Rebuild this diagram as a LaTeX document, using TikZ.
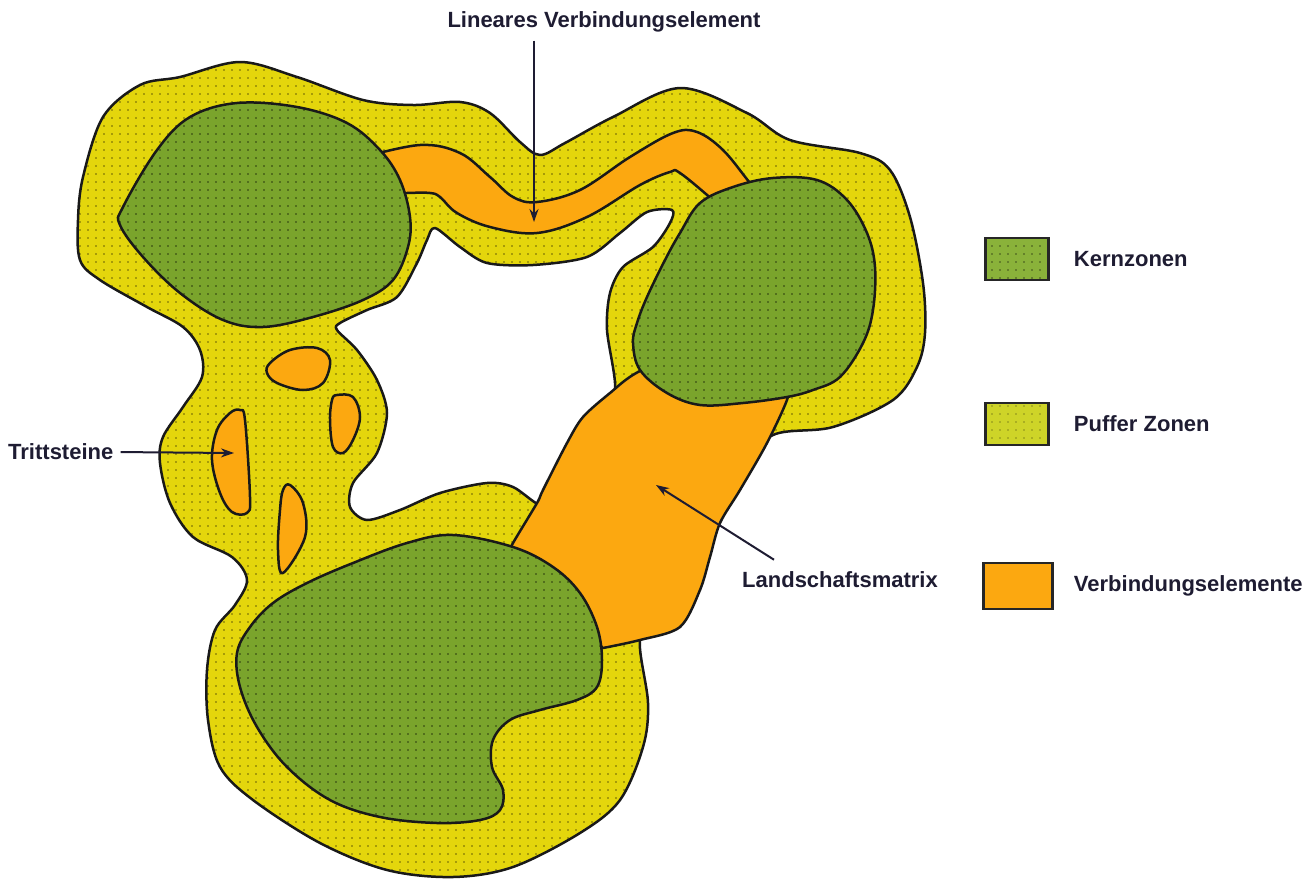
\documentclass[tikz,border=0pt]{standalone}
\usepackage{fontspec}
\setmainfont{Liberation Sans}
\usetikzlibrary{arrows.meta,positioning,patterns.meta}
\definecolor{kerngruen}{RGB}{122,164,44}
\definecolor{puffergelb}{RGB}{228,214,12}
\definecolor{verbindorange}{RGB}{252,168,16}
\definecolor{schrift}{RGB}{30,28,50}
\definecolor{legkern}{RGB}{138,178,58}
\definecolor{legpuffer}{RGB}{206,212,40}
\tikzdeclarepattern{
  name=gitterpunkte,
  type=uncolored,
  bounding box={(-4pt,-4pt) and (4pt,4pt)},
  tile size={(8pt,8pt)},
  code={\fill (0pt,0pt) circle (0.9pt);}
}

\begin{document}
\begin{tikzpicture}[
    x=1pt, y=-1pt,
    every node/.style={font=\fontsize{22}{26}\selectfont\bfseries, text=schrift},
    outline/.style={draw=black!90, line width=2.5pt, line join=round},
    kern/.style={outline, preaction={fill=kerngruen}, pattern=gitterpunkte, pattern color=black!65!kerngruen},
    puffer/.style={outline, preaction={fill=puffergelb}, pattern=gitterpunkte, pattern color=black!55!puffergelb},
    verbind/.style={outline, fill=verbindorange},
    leer/.style={outline, fill=white},
    zeiger/.style={-{Stealth[length=13pt,width=9pt]}, line width=2pt, draw=schrift},
    legbox/.style={draw=black!85, line width=2.5pt, minimum width=63pt, minimum height=42pt, inner sep=0pt},
    legtext/.style={inner sep=0pt}
]
\useasboundingbox (0,0) rectangle (1314,878);

\draw[puffer] plot[smooth cycle, tension=0.55] coordinates {
  (83,177) (103,117) (140,85) (180,77) (240,62) (297,77) (363,100) (413,105) (460,102)
  (490,113) (520,142) (540,155) (565,143) (613,117) (680,88) (747,113) (790,140)
  (860,153) (890,170) (910,217) (923,283) (925,333) (917,367) (893,400) (833,427)
  (773,435) (740,470) (700,560) (660,620) (640,640) (648,703) (643,747) (620,800)
  (580,833) (513,867) (453,877) (387,870) (320,843) (253,800) (220,767) (208,720)
  (207,670) (215,630) (235,605) (247,580) (232,557) (193,537) (170,503) (160,463)
  (163,437) (183,407) (202,377) (200,350) (183,327) (147,307) (100,280) (80,260) (78,220)};

\draw[leer] plot[smooth cycle, tension=0.5] coordinates {
  (435,228) (460,247) (487,263) (533,265) (587,257) (620,233) (647,212) (672,210)
  (670,223) (653,247) (623,267) (610,293) (607,330) (615,390) (596,415) (575,450)
  (553,495) (540,505) (513,487) (487,483) (440,493) (400,510) (367,520) (350,507)
  (353,483) (377,453) (387,413) (377,380) (357,350) (337,330) (340,323) (367,310)
  (397,297) (417,263) (427,240)};

\draw[verbind] plot[smooth cycle, tension=0.6] coordinates {
  (270,363) (290,350) (317,348) (330,360) (323,383) (303,390) (277,383) (267,373)};
\draw[verbind] plot[smooth cycle, tension=0.6] coordinates {
  (337,395) (353,397) (360,417) (353,440) (343,453) (333,447) (330,420) (332,400)};
\draw[verbind] plot[smooth cycle, tension=0.6] coordinates {
  (240,410) (245,420) (250,497) (247,513) (232,512) (220,493) (212,460) (217,430) (230,413)};
\draw[verbind] plot[smooth cycle, tension=0.6] coordinates {
  (290,485) (303,503) (305,537) (283,573) (278,550) (280,510) (283,490)};

\draw[verbind] plot[smooth, tension=0.6] coordinates {
  (360,158) (420,145) (460,153) (490,177) (513,197) (537,202) (580,190) (630,157)
  (673,133) (697,132) (723,150) (750,183) (765,200)}
  -- plot[smooth, tension=0.6] coordinates {
  (730,215) (713,200) (680,173) (670,172) (640,185) (587,217) (537,233) (490,227)
  (457,213) (440,197) (430,193) (407,193) (360,195)} -- cycle;

\draw[verbind] plot[smooth, tension=0.5] coordinates {
  (700,345) (638,372) (610,393) (583,417) (567,443) (543,490) (537,503) (513,543) (505,560)}
  -- (560,610) -- plot[smooth, tension=0.5] coordinates {
  (603,648) (640,640) (680,627) (700,590) (710,557) (720,523) (740,490) (767,443)
  (788,397) (790,370)} -- cycle;

\draw[kern] plot[smooth cycle, tension=0.6] coordinates {
  (123,207) (157,150) (190,117) (237,103) (297,107) (347,123) (380,150) (400,180)
  (410,217) (408,247) (393,280) (363,300) (313,317) (263,327) (223,320) (180,293)
  (143,257) (120,225)};
\draw[kern] plot[smooth cycle, tension=0.6] coordinates {
  (680,233) (700,203) (733,187) (773,178) (817,180) (847,200) (867,233) (875,267)
  (873,310) (863,343) (840,377) (813,390) (787,397) (743,403) (700,405) (667,393)
  (640,370) (633,343) (637,323) (647,297) (665,260)};
\draw[kern] plot[smooth cycle, tension=0.6] coordinates {
  (453,535) (513,547) (553,567) (580,593) (597,627) (602,660) (597,687) (577,700)
  (540,710) (510,720) (493,740) (492,767) (503,790) (500,810) (480,820) (437,823)
  (380,817) (330,800) (287,767) (257,727) (240,687) (237,653) (250,627) (273,603)
  (307,583) (353,563) (407,543)};

\node[inner sep=0pt] (lintext) at (604,22) {Lineares Verbindungselement};
\coordinate (linziel) at (534,222);
\draw[zeiger, shorten <=8pt] (lintext.south -| linziel) -- (linziel);

\node[inner sep=0pt, anchor=west] (tritt) at (8,452) {Trittsteine};
\coordinate (trittziel) at (234,453);
\draw[zeiger, shorten <=7pt] (tritt.east) -- (trittziel);

\node[inner sep=0pt] (land) at (840,580) {Landschaftsmatrix};
\coordinate (landziel) at (656,485);
\draw[zeiger] ([xshift=32pt, yshift=12pt]land.north west) -- (landziel);

\node[legbox, preaction={fill=legkern}, pattern=gitterpunkte, pattern color=black!55!legkern] (legkern) at (1017,259) {};
\node[legtext, right=24pt of legkern] (txtkern) {Kernzonen};
\node[legbox, preaction={fill=legpuffer}, pattern=gitterpunkte, pattern color=black!35!legpuffer] (legpuffer) at (1017,424) {};
\node[legtext, right=24pt of legpuffer] (txtpuffer) {Puffer Zonen};
\node[legbox, fill=verbindorange, minimum width=69pt, minimum height=46pt] (legverbind) at (1018,586) {};
\node[legtext, right=20pt of legverbind] (txtverbind) {Verbindungselemente};
\end{tikzpicture}
\end{document}
